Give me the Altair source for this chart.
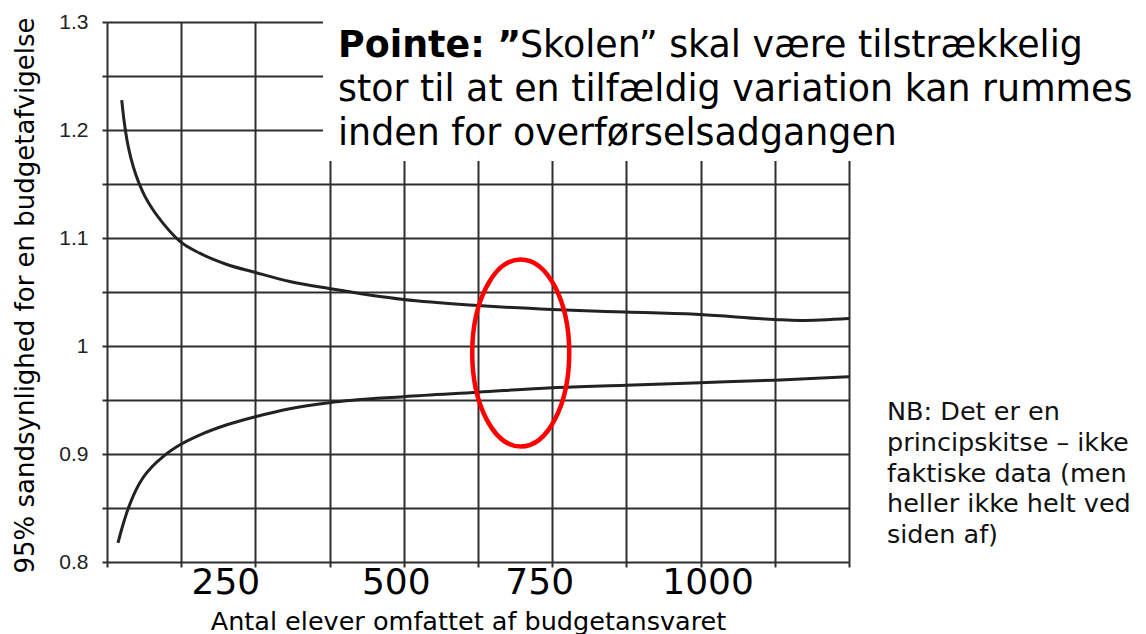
import altair as alt
import pandas as pd

# ---- data ----
upper_x = [24.8, 28.6, 33.7, 40.4, 48.9, 60.6, 75.8, 96, 123, 157, 202, 250, 308, 374, 500, 625, 750, 874, 999,
           1125, 1167, 1250]
upper_y = [1.2276, 1.2091, 1.1905, 1.1738, 1.1581, 1.1423, 1.1275, 1.1126, 1.0968, 1.0857, 1.0755, 1.0681,
           1.0597, 1.0532, 1.0430, 1.0375, 1.0338, 1.0314, 1.0291, 1.0245, 1.0236, 1.0254]
lower_x = [18.5, 25.3, 32, 38.7, 48.9, 60.6, 75.8, 96, 123, 157, 202, 250, 308, 374, 500, 625, 750, 874, 999,
           1125, 1250]
lower_y = [0.8176, 0.8315, 0.8436, 0.8538, 0.8668, 0.8780, 0.8881, 0.8983, 0.9085, 0.9178, 0.9271, 0.9345,
           0.9419, 0.9475, 0.9531, 0.9572, 0.9614, 0.9637, 0.9660, 0.9684, 0.9716]

x_ticks = [0, 125, 250, 375, 500, 625, 750, 875, 1000, 1125, 1250]
x_tick_labels = [250, 500, 750, 1000]
y_ticks = [0.8, 0.85, 0.9, 0.95, 1.0, 1.05, 1.1, 1.15, 1.2, 1.25, 1.3]
y_tick_labels = [0.8, 0.9, 1.0, 1.1, 1.2, 1.3]

focus_x = [697]
focus_y = [0.9935]

y_title = "95% sandsynlighed for en budgetafvigelse"
x_title = "Antal elever omfattet af budgetansvaret"
point_bold = "Pointe: \u201d"
point_first = "Skolen\u201d skal være tilstrækkelig"
point_rest = ["stor til at en tilfældig variation kan rummes", "inden for overførselsadgangen"]
nb_lines = ["NB: Det er en", "principskitse \u2013 ikke", "faktiske data (men",
            "heller ikke helt ved", "siden af)"]

FONT = "DejaVu Sans"
GRID = "#2e2e2e"

upper = pd.DataFrame({"x": upper_x, "y": upper_y})
lower = pd.DataFrame({"x": lower_x, "y": lower_y})
focus = pd.DataFrame({"x": focus_x, "y": focus_y})
one = pd.DataFrame({"k": [0]})

xscale = alt.Scale(domain=[0, 1250], nice=False, zero=False)
yscale = alt.Scale(domain=[0.8, 1.3], nice=False, zero=False)

x_axis = alt.Axis(
    values=x_ticks, format="d",
    labelExpr=f"indexof({x_tick_labels}, datum.value) >= 0 ? datum.label : ''",
    labelOffset=alt.ExprRef(expr="datum.value == 250 ? -30 : datum.value == 500 ? -8 : datum.value == 750 ? -13 : 7"),
    labelFont=FONT, labelFontSize=36, labelColor="#000", labelBaseline="alphabetic",
    labelPadding=26, labelOverlap=False, labelFlush=False,
    domain=False, grid=True, gridColor=GRID, gridWidth=2, gridOpacity=1,
    ticks=True, tickSize=5, tickColor=GRID, tickWidth=2,
    title=x_title, titleFont=FONT, titleFontSize=25.5, titleFontWeight="normal", titleColor="#000",
    titleX=361, titleY=67, titleBaseline="alphabetic", titleAlign="center",
)
y_axis = alt.Axis(
    values=y_ticks,
    labelExpr=f"indexof({y_tick_labels}, datum.value) >= 0 ? format(datum.value, '.1~f') : ''",
    labelFont="Liberation Sans", labelFontSize=21, labelColor="#222", labelPadding=14,
    labelOverlap=False, labelFlush=False,
    domain=False, grid=True, gridColor=GRID, gridWidth=2, gridOpacity=1,
    ticks=True, tickSize=5, tickColor=GRID, tickWidth=2,
    title=y_title, titleFont=FONT, titleFontSize=26, titleFontWeight="normal", titleColor="#000",
    titleAngle=270, titleX=-74, titleY=273, titleBaseline="alphabetic", titleAlign="center",
)

base_upper = alt.Chart(upper).mark_line(color="#222", strokeWidth=3, interpolate="monotone").encode(
    x=alt.X("x:Q", scale=xscale, axis=x_axis),
    y=alt.Y("y:Q", scale=yscale, axis=y_axis),
)
base_lower = alt.Chart(lower).mark_line(color="#222", strokeWidth=3, interpolate="monotone").encode(
    x=alt.X("x:Q", scale=xscale),
    y=alt.Y("y:Q", scale=yscale),
)

cover = alt.Chart(one).mark_rect(color="white").encode(
    x=alt.value(216), x2=alt.value(1100), y=alt.value(-30), y2=alt.value(139)
)

ellipse_path = ("M 0 -1 C 0.2865 -1 0.5187 -0.5523 0.5187 0 C 0.5187 0.5523 0.2865 1 0 1 "
                "C -0.2865 1 -0.5187 0.5523 -0.5187 0 C -0.5187 -0.5523 -0.2865 -1 0 -1 Z")
ring = alt.Chart(focus).mark_point(
    shape=ellipse_path, size=34969, filled=False, stroke="#ff0000", strokeWidth=4.5, opacity=1
).encode(x=alt.X("x:Q", scale=xscale), y=alt.Y("y:Q", scale=yscale))

t_bold = alt.Chart(one).mark_text(
    text=point_bold, font=FONT, fontSize=36.4, fontWeight="bold", color="#000",
    align="left", baseline="alphabetic"
).encode(x=alt.value(231), y=alt.value(35))
t_first = alt.Chart(one).mark_text(
    text=point_first, font=FONT, fontSize=36.4, color="#000", align="left", baseline="alphabetic"
).encode(x=alt.value(413), y=alt.value(35))
t_rest = alt.Chart(one).mark_text(
    text=point_rest, font=FONT, fontSize=36.4, lineHeight=44, color="#000",
    align="left", baseline="alphabetic"
).encode(x=alt.value(231), y=alt.value(79))
t_nb = alt.Chart(one).mark_text(
    text=nb_lines, font=FONT, fontSize=25.5, lineHeight=30.75, color="#111",
    align="left", baseline="alphabetic"
).encode(x=alt.value(780), y=alt.value(398))

chart = alt.layer(base_upper, base_lower, cover, ring, t_bold, t_first, t_rest, t_nb).properties(
    width=742, height=540,
    padding={"left": 99, "top": 14, "right": 289, "bottom": 80},
    autosize=alt.AutoSizeParams(type="none"),
    background="white",
).configure_view(strokeWidth=0)

chart.save("out.html", embed_options={"renderer": "svg", "actions": False})
